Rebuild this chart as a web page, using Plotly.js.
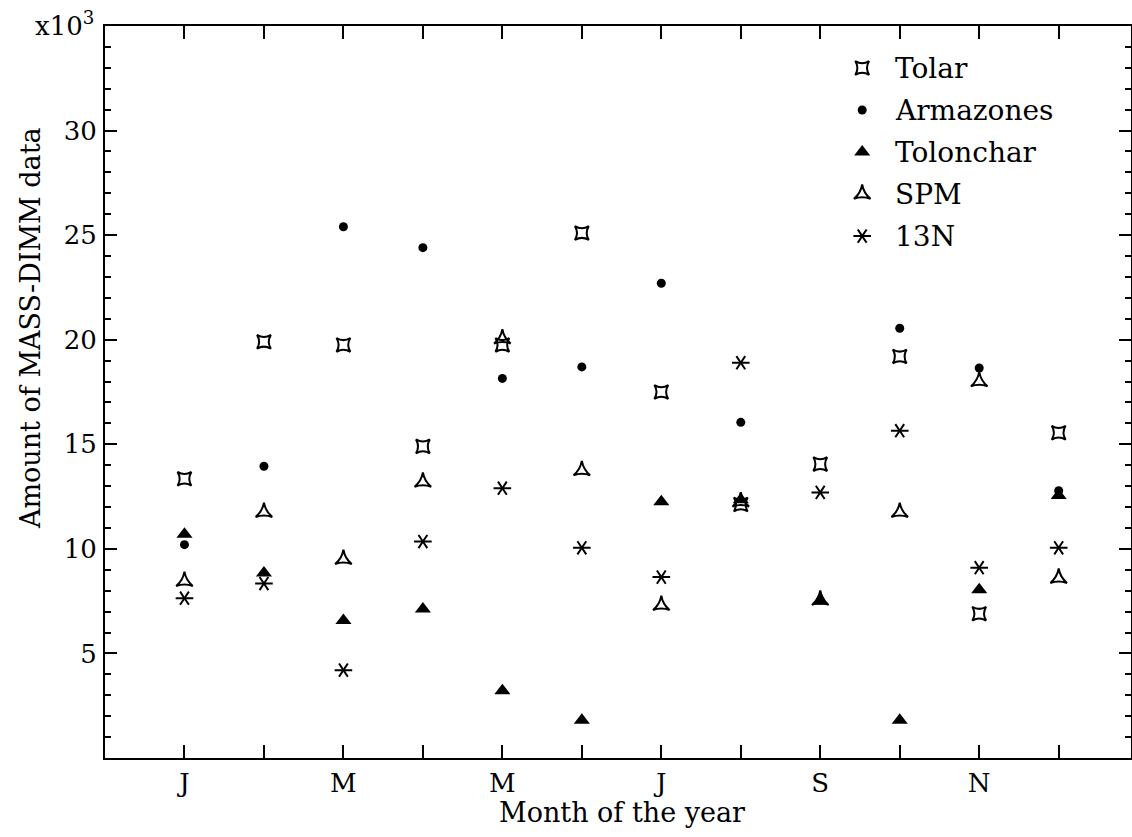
<!DOCTYPE html>
<html>
<head>
<meta charset="utf-8">
<script src="https://cdn.plot.ly/plotly-3.0.1.min.js"></script>
<style>
  html, body { margin: 0; padding: 0; background: #fff; }
  #chart { width: 1132px; height: 837px; }
</style>
</head>
<body>
<div id="chart"></div>
<script>
// Monthly amount of MASS-DIMM data per site (units of 10^3)
const months = [1, 2, 3, 4, 5, 6, 7, 8, 9, 10, 11, 12];
const tolar     = [13.35, 19.9, 19.75, 14.9, 19.75, 25.1, 17.5, 12.12, 14.05, 19.2, 6.9, 15.55];
const armazones = [10.2, 13.95, 25.4, 24.4, 18.15, 18.7, 22.7, 16.05, 7.55, 20.55, 18.65, 12.78];
const tolonchar = [10.7, 8.85, 6.57, 7.12, 3.22, 1.8, 12.25, 12.35, 7.5, 1.8, 8.05, 12.55];
const spm       = [8.45, 11.75, 9.5, 13.2, 20.05, 13.75, 7.3, 12.25, 7.55, 11.75, 18.0, 8.6];
const n13       = [7.64, 8.34, 4.2, 10.35, 12.9, 10.05, 8.65, 18.9, 12.7, 15.65, 9.1, 10.05];

const monthTicks  = [1, 2, 3, 4, 5, 6, 7, 8, 9, 10, 11, 12];
const monthLabels = ['J', '', 'M', '', 'M', '', 'J', '', 'S', '', 'N', ''];
const yTicks = [5, 10, 15, 20, 25, 30];

const seriesNames = ['Tolar', 'Armazones', 'Tolonchar', 'SPM', '13N'];
const seriesData  = [tolar, armazones, tolonchar, spm, n13];

const FONT = 'DejaVu Serif, serif';
const INK = '#000';
const TEXT = { family: FONT, size: 26, color: INK };
const KEYTEXT = { family: FONT, size: 28, color: INK };

// Marker styles; 13N is an asterisk built from two mirrored "y" symbols
const styles = [
  [{ symbol: 'star-diamond-open', angle: 45, size: 14, color: INK, line: { color: INK, width: 2 } }],
  [{ symbol: 'circle', size: 9, color: INK, line: { width: 0 } }],
  [{ symbol: 'triangle-up', size: 14, color: INK, line: { width: 0 } }],
  [{ symbol: 'star-triangle-up-open', size: 12, color: INK, line: { color: INK, width: 2 } }],
  [
    { symbol: 'y-left-open', size: 11, color: INK, line: { color: INK, width: 2 } },
    { symbol: 'y-right-open', size: 11, color: INK, line: { color: INK, width: 2 } }
  ]
];

const traces = [];
seriesData.forEach((vals, i) => {
  styles[i].forEach(st => {
    traces.push({
      type: 'scatter', mode: 'markers', name: seriesNames[i],
      x: months, y: vals, marker: st, showlegend: false,
      xaxis: 'x', yaxis: 'y', cliponaxis: false, hoverinfo: 'x+y+name'
    });
  });
});

// Key drawn in an invisible overlay frame (0..1 in both directions)
const keyX = 0.738, keyTextX = 0.768, keyTop = 0.9426, keyStep = 0.0574;
const annotations = [];
seriesNames.forEach((name, i) => {
  const ky = keyTop - i * keyStep;
  styles[i].forEach(st => {
    traces.push({
      type: 'scatter', mode: 'markers', x: [keyX], y: [ky], marker: st,
      showlegend: false, hoverinfo: 'skip', xaxis: 'x2', yaxis: 'y2'
    });
  });
  annotations.push({
    xref: 'paper', yref: 'paper', x: keyTextX, y: ky, xanchor: 'left', yanchor: 'middle',
    text: name, showarrow: false, font: KEYTEXT
  });
});

annotations.push(
  {
    xref: 'paper', yref: 'paper', x: 0.504, y: -0.074, xanchor: 'center', yanchor: 'middle',
    text: 'Month of the year', showarrow: false, font: { family: FONT, size: 27, color: INK }
  },
  {
    xref: 'paper', yref: 'paper', x: -0.0731, y: 0.5874, xanchor: 'center', yanchor: 'middle',
    text: 'Amount of MASS-DIMM data', textangle: -90, showarrow: false,
    font: { family: FONT, size: 27, color: INK }
  },
  {
    xref: 'paper', yref: 'paper', x: -0.009, y: 1.003, xanchor: 'right', yanchor: 'middle',
    text: 'x10<sup>3</sup>', showarrow: false, font: TEXT
  }
);

const axisCommon = {
  showline: true, linecolor: INK, linewidth: 2, mirror: 'ticks',
  ticks: 'inside', tickcolor: INK, tickwidth: 2,
  showgrid: false, zeroline: false, fixedrange: true,
  tickfont: TEXT
};

const layout = {
  width: 1132, height: 837,
  margin: { l: 105, r: 1, t: 26, b: 79, pad: 0 },
  paper_bgcolor: '#fff', plot_bgcolor: '#fff',
  showlegend: false,
  xaxis: Object.assign({}, axisCommon, {
    range: [0, 12.91], tickmode: 'array', tickvals: monthTicks, ticktext: monthLabels,
    ticklen: 13, ticklabelstandoff: 1
  }),
  yaxis: Object.assign({}, axisCommon, {
    range: [0, 35], tickmode: 'array', tickvals: yTicks, ticklen: 12,
    ticklabelstandoff: 1,
    minor: { dtick: 1, tick0: 0, ticks: 'inside', ticklen: 6, tickwidth: 2, tickcolor: INK, showgrid: false }
  }),
  xaxis2: { overlaying: 'x', range: [0, 1], visible: false, fixedrange: true },
  yaxis2: { overlaying: 'y', range: [0, 1], visible: false, fixedrange: true },
  annotations: annotations
};

Plotly.newPlot('chart', traces, layout, { displayModeBar: false, staticPlot: true });
</script>
</body>
</html>
